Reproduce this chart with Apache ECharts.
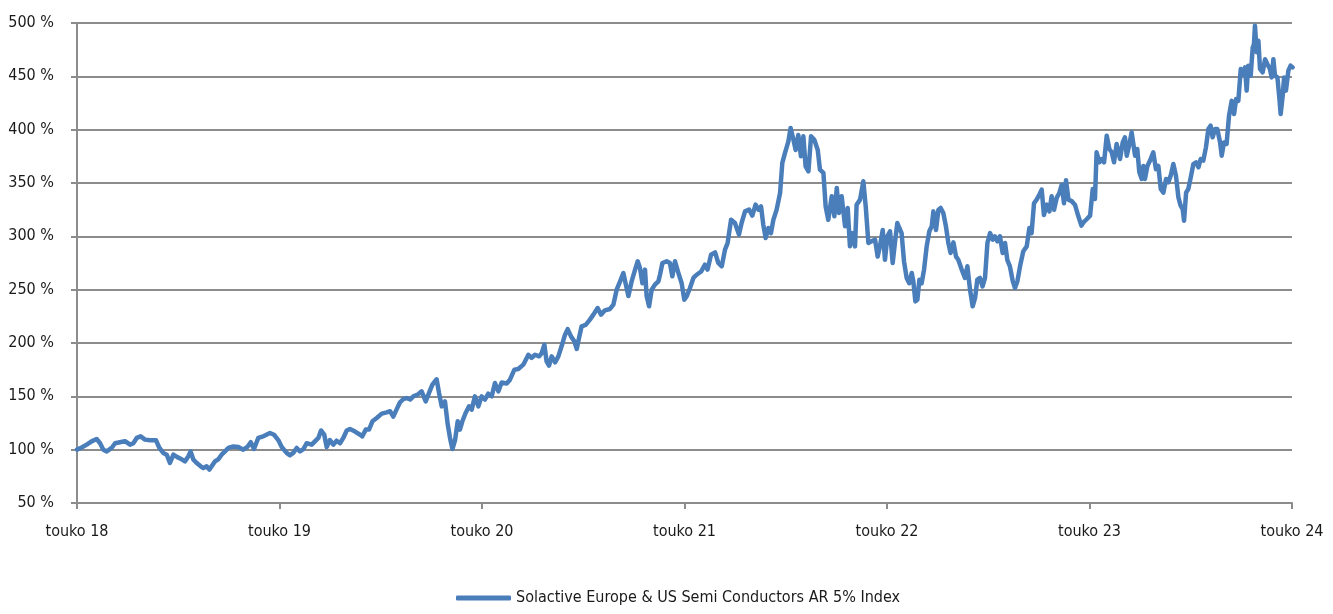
<!DOCTYPE html>
<html>
<head>
<meta charset="utf-8">
<script src="https://cdn.jsdelivr.net/npm/echarts@6/dist/echarts.min.js"></script>
<style>
html,body{margin:0;padding:0;background:#fff;}
#chart{width:1333px;height:614px;}
</style>
</head>
<body>
<div id="chart"></div>
<script>
// x: time in years since May 2018 ("touko 18"), y: index level in %
const seriesName = 'Solactive Europe & US Semi Conductors AR 5% Index';
const tickLabels = ['touko 18','touko 19','touko 20','touko 21','touko 22','touko 23','touko 24'];
const yTicks = [50,100,150,200,250,300,350,400,450,500];

const points2018 = [
[0.000,100],[0.023,102],[0.048,104.7],[0.072,107.8],[0.097,110],[0.114,106],[0.130,100],[0.147,98.4],
[0.171,101.6],[0.188,106],[0.212,107],[0.237,108],[0.262,104.7],[0.278,106],[0.295,111],[0.314,112.5],
[0.336,109.4],[0.361,108.8],[0.390,108.8],[0.407,101.6],[0.426,96.9],[0.443,95.3],[0.459,87.5],[0.476,95.3],
[0.495,93],[0.517,91],[0.533,89],[0.550,93.8],[0.561,98.4],[0.575,90.6],[0.591,87.5],[0.611,84.4],
[0.624,82.8],[0.640,84.4],[0.654,81.3],[0.665,84.4],[0.681,89],[0.698,91],[0.714,95.3],[0.731,98.4],
[0.747,101.6],[0.772,103],[0.797,102.5],[0.821,100],[0.841,102.5],[0.858,107],[0.874,100.6],[0.895,111],
[0.920,112.5],[0.953,115.6],[0.973,114]
];
const points2019 = [
[0.978,115],[0.994,109],[1.011,102.5],[1.035,97],[1.052,94.7],[1.068,97],[1.085,101.6],[1.101,98.4],
[1.118,100.6],[1.134,106],[1.159,104.7],[1.175,107.8],[1.192,111],[1.205,118],[1.221,114],[1.233,102.5],
[1.249,109],[1.266,104.7],[1.282,108.4],[1.299,106],[1.315,111],[1.332,118],[1.348,119.4],[1.373,117],
[1.398,114],[1.409,112.5],[1.426,118.8],[1.442,118.8],[1.459,126.6],[1.480,129.7],[1.505,133.8],[1.529,135],
[1.546,136],[1.562,131],[1.579,138],[1.595,144.4],[1.612,147.5],[1.628,148.4],[1.645,147],[1.661,150],
[1.682,151.6],[1.702,154.7],[1.722,145.3],[1.738,153],[1.755,161],[1.776,166],[1.788,153],[1.801,140.6],
[1.817,145.3],[1.831,123.4],[1.842,111],[1.854,100.6],[1.867,109],[1.880,126.6],[1.891,118.8],[1.903,126.6],
[1.919,134.4],[1.936,140.6],[1.949,137.5]
];
const points2020 = [
[1.965,150],[1.982,140.6],[1.998,150],[2.015,147],[2.031,152.5],[2.048,150],[2.064,162.5],[2.081,154.7],
[2.097,163],[2.122,162],[2.138,165.6],[2.160,175],[2.179,175.6],[2.204,179.7],[2.229,189],[2.245,186],
[2.262,189],[2.282,187.5],[2.295,190.6],[2.308,198.4],[2.319,182.8],[2.331,178.8],[2.344,187.5],[2.361,181.9],
[2.377,187.5],[2.393,196.9],[2.410,207.8],[2.423,213],[2.440,206],[2.456,201.6],[2.468,194.4],[2.479,204.7],
[2.492,215.6],[2.512,217],[2.533,221.9],[2.550,226.6],[2.571,232.8],[2.588,226.6],[2.607,230.6],[2.632,231.9],
[2.649,236],[2.665,250],[2.682,257.8],[2.698,265.6],[2.710,255],[2.723,244],[2.739,257.8],[2.756,268.8],
[2.769,276.6],[2.780,270.3],[2.792,256],[2.805,268.8],[2.813,244],[2.825,234.4],[2.838,250],[2.854,254.7],
[2.871,257.8],[2.879,264],[2.891,275],[2.912,276.6],[2.928,275],[2.940,262.5]
];
const points2021 = [
[2.953,276.6],[2.970,265.6],[2.986,256],[2.999,240.6],[3.011,243.8],[3.027,251.6],[3.044,261],[3.060,264],
[3.082,267],[3.101,273.4],[3.114,268.8],[3.131,282.8],[3.151,285],[3.167,275],[3.184,271.9],[3.200,287.5],
[3.213,293.8],[3.230,315.6],[3.249,312.5],[3.269,301.6],[3.282,312.5],[3.299,323.4],[3.319,325],[3.335,319.4],
[3.351,329.7],[3.365,325],[3.378,328],[3.389,311],[3.401,298.4],[3.414,307.8],[3.427,303],[3.439,315.6],
[3.455,325],[3.472,340.6],[3.483,368.8],[3.496,378],[3.513,389],[3.524,401.6],[3.538,390.6],[3.549,381],
[3.562,395],[3.575,375],[3.587,393.8],[3.598,365.6],[3.612,361],[3.625,393.8],[3.641,390.6],[3.658,381],
[3.669,362.5],[3.686,359.4],[3.697,328],[3.710,315.6],[3.727,337.5],[3.740,318.8],[3.752,345.3],[3.763,321.9],
[3.776,337.5],[3.793,309.4],[3.806,326.6],[3.817,290.6],[3.829,303],[3.842,290.6],[3.850,329.7],[3.867,334.4],
[3.883,351.6],[3.895,328],[3.908,293.8],[3.924,295.3],[3.941,296.9],[3.954,281]
];
const points2022 = [
[3.965,290.6],[3.979,306],[3.990,278],[4.002,300],[4.015,304.7],[4.028,275],[4.040,295.3],[4.051,312.5],
[4.061,307.8],[4.072,303],[4.084,276.6],[4.097,261],[4.110,256],[4.122,265.6],[4.130,258],[4.140,239],
[4.150,240.6],[4.160,259.4],[4.171,256],[4.183,268.8],[4.196,290.6],[4.209,304.7],[4.221,309.4],[4.229,323.4],
[4.242,306],[4.254,325],[4.265,326.6],[4.278,321.9],[4.291,309.4],[4.303,293.8],[4.314,284.4],[4.328,294.4],
[4.341,281],[4.352,278],[4.369,268.8],[4.385,261],[4.397,271.9],[4.410,250],[4.423,234.4],[4.435,242.2],
[4.446,259.4],[4.459,261],[4.472,253],[4.484,261],[4.496,293.8],[4.509,303],[4.522,296.9],[4.533,300],
[4.545,295.3],[4.558,300],[4.571,284.4],[4.583,293.8],[4.594,278],[4.607,271.9],[4.621,258],[4.632,251.6],
[4.644,258],[4.657,271.9],[4.673,286],[4.690,290.6],[4.703,307.8],[4.714,303],[4.726,331],[4.739,334.4],
[4.752,339],[4.764,343.8],[4.775,320],[4.789,329.7],[4.802,323.4],[4.813,337.5],[4.825,325],[4.838,336],
[4.851,340.6],[4.863,348.4],[4.874,331],[4.884,352.5],[4.896,334.4],[4.912,333],[4.928,329.7],[4.945,318.8]
];
const points2023 = [
[4.960,310],[4.970,313],[4.986,316],[5.003,319.4],[5.016,344.4],[5.027,335],[5.035,378.8],[5.049,369.4],
[5.060,372.5],[5.072,369.4],[5.085,394.4],[5.098,381.9],[5.110,378.8],[5.121,369.4],[5.134,386.6],[5.151,372.5],
[5.164,388],[5.175,392.8],[5.184,375.6],[5.197,386.6],[5.208,397.5],[5.217,399],[5.225,375.6],[5.236,381.9],
[5.246,360],[5.258,353.8],[5.266,366],[5.274,353.8],[5.286,366],[5.299,371],[5.315,378.8],[5.328,363],
[5.340,366],[5.352,344.4],[5.365,341],[5.378,353.8],[5.389,350.6],[5.401,356.9],[5.414,367.8],[5.427,356.9],
[5.439,336.6],[5.450,328.8],[5.460,325.6],[5.467,314.7],[5.477,341],[5.488,344.4],[5.500,355.3],[5.513,367.8],
[5.526,369.4],[5.538,364.7],[5.549,372.5],[5.562,371],[5.575,383.4],[5.587,400.6],[5.598,403.8],[5.608,392.8],
[5.620,400.6],[5.631,400.6],[5.645,388],[5.653,375.6],[5.664,388],[5.677,386.6],[5.689,413],[5.702,427],
[5.714,414.7],[5.724,428.8],[5.735,427],[5.747,456.9],[5.760,452],[5.768,458.4],[5.776,436.6],[5.784,460],
[5.796,450.6],[5.806,477],[5.812,480],[5.817,497.5],[5.826,472.5],[5.834,483.4],[5.842,456.9],[5.855,453.8],
[5.867,466],[5.878,461.6],[5.891,456.9],[5.900,449],[5.908,466],[5.916,450.6],[5.928,449],[5.938,428.8],
[5.944,414.7],[5.954,431.9],[5.961,449],[5.970,436.6],[5.982,455.3],[5.993,460],[6.003,458.4]
];

const data = [].concat(points2018, points2019, points2020, points2021, points2022, points2023);

const FONT = "'DejaVu Sans Condensed', 'Liberation Sans Narrow', sans-serif";
const GRID_COLOR = '#8c8c8c';
const LINE_COLOR = '#4a7ebb';
const TEXT_COLOR = '#1a1a1a';

const chart = echarts.init(document.getElementById('chart'), null, {renderer: 'canvas'});
chart.setOption({
  animation: false,
  backgroundColor: '#ffffff',
  grid: {left: 77, right: 41, top: 23, bottom: 111, containLabel: false, outerBoundsMode: 'none'},
  legend: {
    data: [seriesName],
    bottom: 3,
    left: 451,
    icon: 'roundRect',
    itemWidth: 55,
    itemHeight: 5,
    itemGap: 10,
    textStyle: {fontFamily: FONT, fontSize: 16, color: TEXT_COLOR}
  },
  xAxis: {
    type: 'value',
    min: 0,
    max: tickLabels.length - 1,
    interval: 1,
    axisLine: {show: true, lineStyle: {color: GRID_COLOR, width: 2}},
    axisTick: {show: true, length: 6, lineStyle: {color: GRID_COLOR, width: 2}},
    splitLine: {show: false},
    axisLabel: {
      margin: 21,
      fontFamily: FONT, fontSize: 16, color: TEXT_COLOR,
      formatter: function (v) { return tickLabels[Math.round(v)] || ''; }
    }
  },
  yAxis: {
    type: 'value',
    min: yTicks[0],
    max: yTicks[yTicks.length - 1],
    interval: 50,
    axisLine: {show: true, lineStyle: {color: GRID_COLOR, width: 2}},
    axisTick: {show: true, length: 6, lineStyle: {color: GRID_COLOR, width: 2}},
    splitLine: {show: true, lineStyle: {color: GRID_COLOR, width: 2}},
    axisLabel: {
      margin: 23,
      fontFamily: FONT, fontSize: 16, color: TEXT_COLOR,
      formatter: function (v) { return v + ' %'; }
    }
  },
  series: [{
    name: seriesName,
    type: 'line',
    data: data,
    symbol: 'none',
    smooth: false,
    itemStyle: {color: LINE_COLOR},
    lineStyle: {color: LINE_COLOR, width: 4.5, join: 'round', cap: 'round'}
  }]
});
</script>
</body>
</html>
